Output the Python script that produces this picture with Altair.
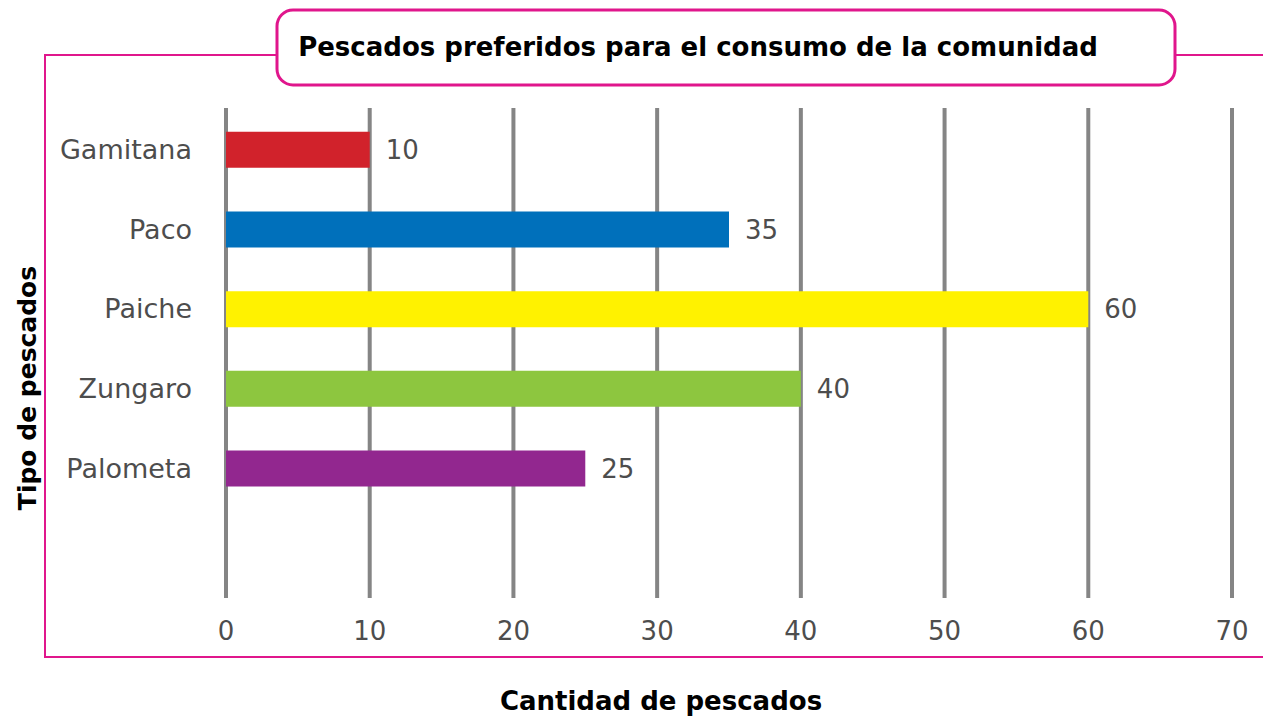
import altair as alt
import pandas as pd

# ---- data ----
categories = ["Gamitana", "Paco", "Paiche", "Zungaro", "Palometa"]
values = [10, 35, 60, 40, 25]
bar_colors = ["#d1222b", "#0070bb", "#fff200", "#8dc63f", "#92278f"]
x_ticks = [0, 10, 20, 30, 40, 50, 60, 70]
title_text = "Pescados preferidos para el consumo de la comunidad"
x_title = "Cantidad de pescados"
y_title = "Tipo de pescados"

bars_df = pd.DataFrame({"pez": categories, "cantidad": values, "color": bar_colors})
ticks_df = pd.DataFrame({"t": x_ticks, "lab": [str(t) for t in x_ticks]})
one = pd.DataFrame({"k": [0]})

PINK = "#e0168c"
GRID = "#858585"
LABEL = "#4d4d4d"
LFONT = "DejaVu Sans"

xs = alt.Scale(domain=[0, 70], range=[218, 1224], nice=False, zero=False)
ys = alt.Scale(domain=categories + [" "], range=[102, 580], paddingInner=0, paddingOuter=0)

frame = alt.Chart(one).mark_rect(fill="white", stroke=PINK, strokeWidth=2).encode(
    x=alt.value(37), x2=alt.value(1262), y=alt.value(47), y2=alt.value(649)
)

grid = alt.Chart(ticks_df).mark_rule(color=GRID, strokeWidth=4).encode(
    x=alt.X("t:Q", scale=xs, axis=None),
    y=alt.value(100), y2=alt.value(590)
)

bars = alt.Chart(bars_df).mark_bar(size=36).encode(
    x=alt.X("cantidad:Q", scale=xs, axis=None),
    x2=alt.datum(0),
    y=alt.Y("pez:N", scale=ys, axis=None, sort=None),
    color=alt.Color("color:N", scale=None, legend=None),
)

vals = alt.Chart(bars_df).mark_text(
    align="left", baseline="middle", dx=16, dy=1, font=LFONT, fontSize=26, color=LABEL
).encode(
    x=alt.X("cantidad:Q", scale=xs, axis=None),
    y=alt.Y("pez:N", scale=ys, axis=None, sort=None),
    text="cantidad:Q",
)

cat_labels = alt.Chart(bars_df).mark_text(
    align="right", baseline="middle", dy=1, font=LFONT, fontSize=27, color=LABEL
).encode(
    x=alt.value(184),
    y=alt.Y("pez:N", scale=ys, axis=None, sort=None),
    text="pez:N",
)

tick_labels = alt.Chart(ticks_df).mark_text(
    align="center", baseline="middle", font=LFONT, fontSize=26, color=LABEL
).encode(
    x=alt.X("t:Q", scale=xs, axis=None),
    y=alt.value(624),
    text="lab:N",
)

title_box = alt.Chart(one).mark_rect(
    fill="white", stroke=PINK, strokeWidth=3, cornerRadius=16
).encode(
    x=alt.value(269), x2=alt.value(1167), y=alt.value(2), y2=alt.value(77)
)

title = alt.Chart(one).mark_text(
    text=title_text, align="center", baseline="middle", font="DejaVu Sans",
    fontWeight="bold", fontSize=26, color="black"
).encode(x=alt.value(690), y=alt.value(40))

xt = alt.Chart(one).mark_text(
    text=x_title, align="center", baseline="middle", font="DejaVu Sans",
    fontWeight="bold", fontSize=26, color="black"
).encode(x=alt.value(653), y=alt.value(694))

yt = alt.Chart(one).mark_text(
    text=y_title, align="center", baseline="middle", font="DejaVu Sans",
    fontWeight="bold", fontSize=25, color="black", angle=270
).encode(x=alt.value(20), y=alt.value(380))

chart = alt.layer(
    frame, grid, bars, vals, cat_labels, tick_labels, title_box, title, xt, yt
).properties(
    width=1255, height=709, padding=0, autosize=alt.AutoSizeParams(type="none")
).configure(background="white", view=alt.ViewConfig(stroke=None))

chart.save("out.html", embed_options={"renderer": "svg", "actions": False})
